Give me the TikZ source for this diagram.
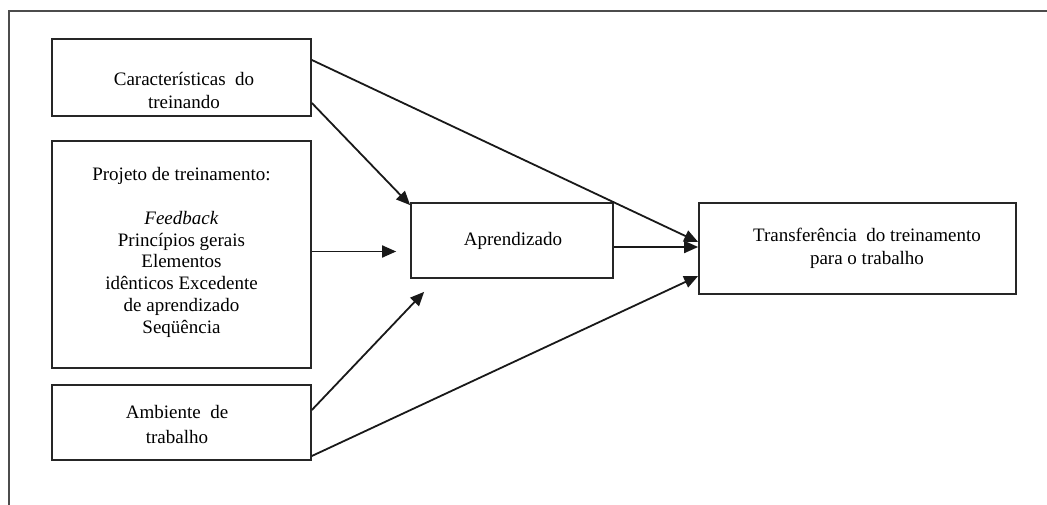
\documentclass[tikz,border=0pt]{standalone}
\usepackage{fontspec}
\setmainfont{Liberation Serif}
\usetikzlibrary{arrows.meta,calc}
\begin{document}
\begin{tikzpicture}[x=1pt,y=-1pt,
  box/.style={draw=black!85,line width=1.7pt,rectangle,inner sep=0pt,align=center,
    font=\fontsize{18.5}{22}\selectfont},
  arr/.style={draw=black!90,line width=1.8pt,-{Triangle[length=14pt,width=12pt]}},
  frame/.style={draw=black!70,line width=2pt}]
\useasboundingbox (0,0) rectangle (1047,505);
% outer frame
\coordinate (fb) at (9,505);
\coordinate (fc) at (9,11);
\coordinate (fr) at (1047,11);
\draw[frame] (fb) -- (fc) -- (fr);
% boxes
\node[box,minimum width=259pt,minimum height=77pt] (b1) at (181.5,77.5) {};
\node[align=center,font=\fontsize{19}{23}\selectfont] (t1) at (184,90) {Características\ \ do\\treinando};
\node[box,minimum width=259pt,minimum height=227pt] (b2) at (181.5,254.5) {};
\node[align=center,font=\fontsize{19}{21.8}\selectfont] (t2) at (181.5,252.5) {Projeto de treinamento:\\[21.8pt]\textit{Feedback}\\Princípios\ gerais\\Elementos\\idênticos Excedente\\de aprendizado\\Seqüência};
\node[box,minimum width=259pt,minimum height=75pt] (b3) at (181.5,422.5) {};
\node[align=center,font=\fontsize{19}{25}\selectfont] (t3) at (177,424.5) {Ambiente\ \ de\\trabalho};
\node[box,minimum width=202pt,minimum height=75pt] (apr) at (512,240.5) {};
\node[font=\fontsize{19}{22}\selectfont] (t4) at (513,241) {Aprendizado};
\node[box,minimum width=317pt,minimum height=91pt] (tr) at (857.5,248.5) {};
\node[align=center,font=\fontsize{19}{23}\selectfont] (t5) at (867,248.5) {Transferência\ \ do treinamento\\para o trabalho};
% connectors
\coordinate (a4) at ([xshift=14pt,yshift=-13pt]apr.south west);
\draw[arr] ([yshift=17.5pt]b1.east) -- ([yshift=6.5pt]tr.west);
\draw[arr] ([yshift=-25.5pt]b1.east) -- ([yshift=-3pt]apr.north west);
\draw[arr,shorten >=14pt] ([yshift=3pt]b2.east) -- ([yshift=3pt]b2.east -| apr.west);
\draw[arr] ([yshift=12.5pt]b3.east) -- (a4);
\draw[arr] ([yshift=-33.5pt]b3.east) -- ([yshift=-27.5pt]tr.west);
\draw[arr] ([yshift=-6.5pt]apr.east) -- ([yshift=-6.5pt]apr.east -| tr.west);
\end{tikzpicture}
\end{document}
